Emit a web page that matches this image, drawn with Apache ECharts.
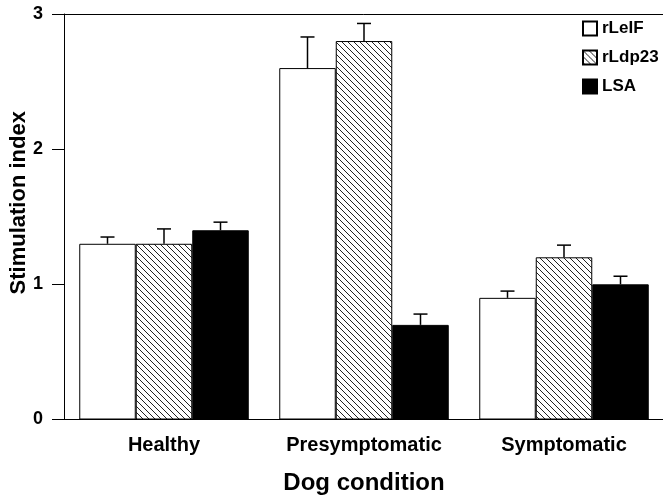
<!DOCTYPE html>
<html>
<head>
<meta charset="utf-8">
<script src="https://cdn.jsdelivr.net/npm/echarts@6/dist/echarts.min.js"></script>
<style>
html,body{margin:0;padding:0;background:#fff;}
#chart{width:663px;height:499px;}
</style>
</head>
<body>
<div id="chart"></div>
<script>
const categories = ['Healthy', 'Presymptomatic', 'Symptomatic'];
const seriesNames = ['rLeIF', 'rLdp23', 'LSA'];
const rLeIF = [1.3, 2.6, 0.9];
const rLdp23 = [1.3, 2.8, 1.2];
const LSA = [1.4, 0.7, 1.0];
const rLeIFErr = [0.05, 0.23, 0.05];
const rLdp23Err = [0.11, 0.13, 0.09];
const LSAErr = [0.06, 0.08, 0.06];
const yTicks = [0, 1, 2, 3];

const values = [rLeIF, rLdp23, LSA];
const errors = [rLeIFErr, rLdp23Err, LSAErr];

function hatchPattern() {
  const c = document.createElement('canvas');
  const s = 6;
  c.width = s; c.height = s;
  const g = c.getContext('2d');
  g.fillStyle = '#fff';
  g.fillRect(0, 0, s, s);
  g.strokeStyle = '#222';
  g.lineWidth = 1;
  g.beginPath();
  for (let k = -s; k <= s; k += s) {
    g.moveTo(k - 1, -1);
    g.lineTo(k + s + 1, s + 1);
  }
  g.stroke();
  return c;
}

const fills = ['#ffffff', { image: hatchPattern(), repeat: 'repeat' }, '#000000'];
const barFrac = 0.2825;
const FONT = '"Liberation Sans", Arial, Helvetica, sans-serif';

const chart = echarts.init(document.getElementById('chart'), null, { renderer: 'canvas' });

const series = [];
values.forEach((vals, i) => {
  series.push({
    name: seriesNames[i],
    type: 'bar',
    data: vals,
    barWidth: (barFrac * 100) + '%',
    barGap: '0%',
    itemStyle: { color: fills[i], borderColor: '#000', borderWidth: 1 },
    silent: true,
    z: 2
  });
});
values.forEach((vals, i) => {
  series.push({
    type: 'custom',
    name: seriesNames[i] + ' err',
    silent: true,
    z: 3,
    data: vals.map((v, j) => [j, v, v + errors[i][j]]),
    renderItem: function (params, api) {
      const c = api.value(0);
      const base = api.coord([c, api.value(1)]);
      const top = api.coord([c, api.value(2)]);
      const band = api.size([1, 0])[0];
      const off = (i - 1) * band * barFrac;
      const x = base[0] + off;
      const hw = 7;
      return {
        type: 'group',
        children: [
          { type: 'line', shape: { x1: x, y1: base[1], x2: x, y2: top[1] }, style: { stroke: '#000', lineWidth: 1.5 } },
          { type: 'line', shape: { x1: x - hw, y1: top[1], x2: x + hw, y2: top[1] }, style: { stroke: '#000', lineWidth: 1.5 } }
        ]
      };
    }
  });
});

chart.setOption({
  animation: false,
  backgroundColor: '#fff',
  grid: { left: 64, top: 14, width: 600, height: 405.5, containLabel: false, outerBoundsMode: 'none' },
  legend: {
    data: seriesNames,
    orient: 'vertical',
    left: 577,
    top: 15,
    itemWidth: 14,
    itemHeight: 14,
    itemGap: 12,
    icon: 'rect',
    textStyle: { fontFamily: FONT, fontWeight: 'bold', fontSize: 17, color: '#000' },
    selectedMode: false
  },
  xAxis: [{
    type: 'category',
    data: categories,
    position: 'bottom',
    axisLine: { lineStyle: { color: '#000', width: 1 } },
    axisTick: { alignWithLabel: true, length: 8, lineStyle: { color: '#000' } },
    axisLabel: { interval: 0, fontFamily: FONT, fontWeight: 'bold', fontSize: 20, color: '#000', margin: 16 },
    name: 'Dog condition',
    nameLocation: 'middle',
    nameGap: 52,
    nameTextStyle: { fontFamily: FONT, fontWeight: 'bold', fontSize: 24, color: '#000' }
  }, {
    type: 'category',
    data: categories,
    position: 'top',
    axisLine: { lineStyle: { color: '#000', width: 1 } },
    axisTick: { show: false },
    axisLabel: { show: false }
  }],
  yAxis: {
    type: 'value',
    min: yTicks[0],
    max: yTicks[yTicks.length - 1],
    interval: 1,
    axisLine: { show: true, lineStyle: { color: '#000', width: 1 } },
    axisTick: { show: true, length: 12, lineStyle: { color: '#000' } },
    splitLine: { show: false },
    axisLabel: { fontFamily: FONT, fontWeight: 'bold', fontSize: 18, color: '#000', margin: 21 },
    name: 'Stimulation index',
    nameLocation: 'middle',
    nameGap: 34,
    nameMoveOverlap: false,
    nameTextStyle: { fontFamily: FONT, fontWeight: 'bold', fontSize: 22, color: '#000', padding: [0, 0, 0, 28] }
  },
  series: series
});
</script>
</body>
</html>
